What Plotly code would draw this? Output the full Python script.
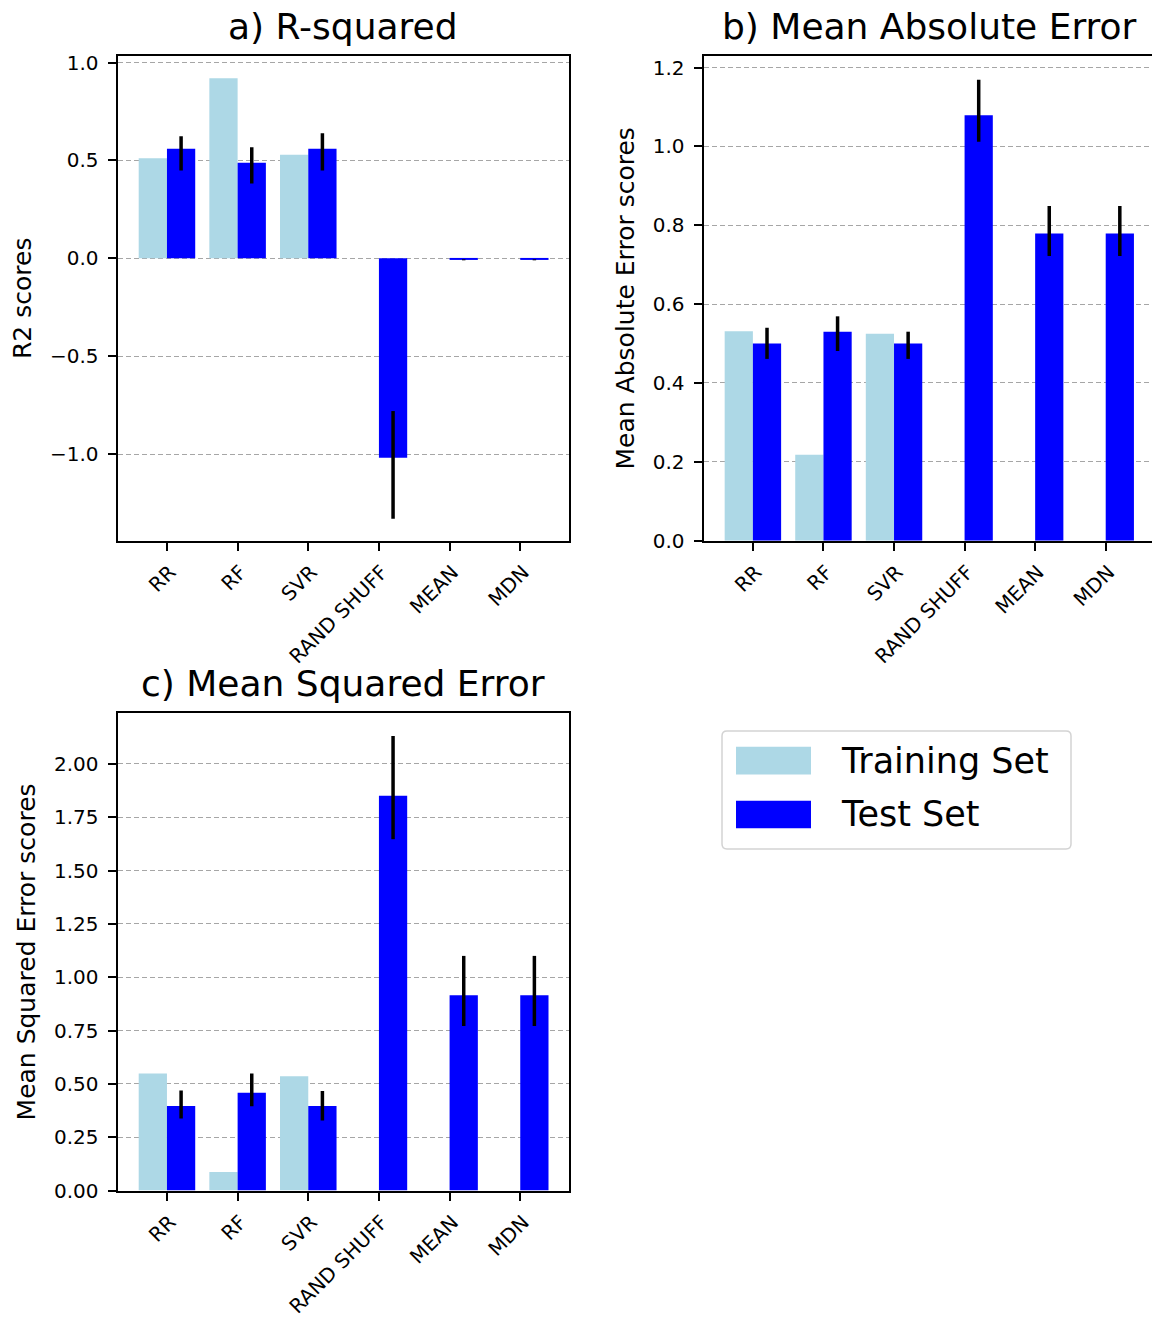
import plotly.graph_objects as go

W, H = 1152, 1325

categories = ["RR", "RF", "SVR", "RAND SHUFF", "MEAN", "MDN"]
series_names = ["Training Set", "Test Set"]

# a) R-squared
r2_train = [0.512, 0.920, 0.529, None, None, None]
r2_test = [0.560, 0.488, 0.560, -1.019, -0.005, -0.005]
r2_err_up = [0.064, 0.080, 0.079, 0.239, 0.0, 0.0]
r2_err_dn = [0.111, 0.106, 0.111, 0.311, 0.005, 0.005]

# b) Mean Absolute Error
mae_train = [0.531, 0.218, 0.525, None, None, None]
mae_test = [0.500, 0.530, 0.500, 1.079, 0.779, 0.779]
mae_err_up = [0.040, 0.039, 0.030, 0.090, 0.070, 0.070]
mae_err_dn = [0.039, 0.049, 0.039, 0.067, 0.057, 0.057]

# c) Mean Squared Error
mse_train = [0.549, 0.087, 0.536, None, None, None]
mse_test = [0.397, 0.458, 0.397, 1.850, 0.916, 0.916]
mse_err_up = [0.072, 0.091, 0.070, 0.280, 0.184, 0.184]
mse_err_dn = [0.059, 0.063, 0.068, 0.203, 0.145, 0.145]

titles = ["a) R-squared", "b) Mean Absolute Error", "c) Mean Squared Error"]
ylabels = ["R2 scores", "Mean Absolute Error scores", "Mean Squared Error scores"]

r2_ticks = [-1.0, -0.5, 0.0, 0.5, 1.0]
r2_ticktext = ["\u22121.0", "\u22120.5", "0.0", "0.5", "1.0"]
mae_ticks = [0.0, 0.2, 0.4, 0.6, 0.8, 1.0, 1.2]
mae_ticktext = ["0.0", "0.2", "0.4", "0.6", "0.8", "1.0", "1.2"]
mse_ticks = [0.0, 0.25, 0.5, 0.75, 1.0, 1.25, 1.5, 1.75, 2.0]
mse_ticktext = ["0.00", "0.25", "0.50", "0.75", "1.00", "1.25", "1.50", "1.75", "2.00"]

TRAIN_COLOR = "#ADD8E6"
TEST_COLOR = "#0000FF"
FONT = "DejaVu Sans"


def px(x):
    return x / W


def py(y):
    return 1 - y / H


# panel boxes in page pixels (left, right, top, bottom)
BOX_A = (117.5, 569, 51.6, 542.6)
BOX_B = (703.5, W, 51.6, 542.6)
BOX_C = (117.5, 569, 717.5, 1201)

panels = [
    dict(train=r2_train, test=r2_test, up=r2_err_up, dn=r2_err_dn, box=BOX_A,
         xr=[-0.70, 5.69], yr=[-1.442, 1.034],
         tv=r2_ticks, tt=r2_ticktext, mirror_y=True, tx=343.2),
    dict(train=mae_train, test=mae_test, up=mae_err_up, dn=mae_err_dn, box=BOX_B,
         xr=[-0.70, 5.656], yr=[0, 1.2295],
         tv=mae_ticks, tt=mae_ticktext, mirror_y=False, tx=929),
    dict(train=mse_train, test=mse_test, up=mse_err_up, dn=mse_err_dn, box=BOX_C,
         xr=[-0.70, 5.69], yr=[0, 2.237],
         tv=mse_ticks, tt=mse_ticktext, mirror_y=True, tx=343.2),
]

fig = go.Figure()
layout = dict(
    width=W, height=H,
    margin=dict(l=0, r=0, t=0, b=0),
    paper_bgcolor="white", plot_bgcolor="white",
    barmode="group", bargap=0.2, bargroupgap=0.0,
    showlegend=False,
    font=dict(family=FONT, color="black"),
)

annotations = []
for i, p in enumerate(panels):
    n = "" if i == 0 else str(i + 1)
    xa, ya = "x" + n, "y" + n
    l, r, t, b = p["box"]
    fig.add_trace(go.Bar(
        x=categories, y=p["train"], name=series_names[0],
        marker=dict(color=TRAIN_COLOR, line=dict(width=0)),
        xaxis=xa, yaxis=ya, offsetgroup="train",
    ))
    fig.add_trace(go.Bar(
        x=categories, y=p["test"], name=series_names[1],
        marker=dict(color=TEST_COLOR, line=dict(width=0)),
        error_y=dict(type="data", symmetric=False, array=p["up"], arrayminus=p["dn"],
                     color="black", thickness=3.5, width=0),
        xaxis=xa, yaxis=ya, offsetgroup="test",
    ))
    layout["xaxis" + n] = dict(
        domain=[px(l), px(r)], anchor=ya, type="category", range=p["xr"],
        showline=True, linecolor="black", linewidth=2, mirror=True,
        ticks="outside", ticklen=8, tickwidth=1.5, tickcolor="black",
        tickangle=-45, tickfont=dict(size=20, family=FONT, color="black"),
        ticklabelshift=3, ticklabelstandoff=2,
        showgrid=False, zeroline=False,
    )
    layout["yaxis" + n] = dict(
        domain=[py(b), py(t)], anchor=xa, range=p["yr"],
        tickvals=p["tv"], ticktext=p["tt"],
        showline=True, linecolor="black", linewidth=2, mirror=p["mirror_y"],
        ticks="outside", ticklen=8, tickwidth=1.5, tickcolor="black",
        tickfont=dict(size=20, family=FONT, color="black"),
        ticklabelstandoff=5,
        showgrid=True, gridcolor="#a6a6a6", gridwidth=1, griddash="5px,3px",
        zeroline=False,
        title=dict(text=ylabels[i], font=dict(size=25, family=FONT, color="black"),
                   standoff=11),
    )
    annotations.append(dict(
        text=titles[i], x=px(p["tx"]), y=py(t), xref="paper", yref="paper",
        xanchor="center", yanchor="bottom", yshift=7, showarrow=False,
        font=dict(size=36, family=FONT, color="black"),
    ))

# Legend (drawn manually to match the large swatches)
shapes = []
lx0, lx1, ly0, ly1 = 722, 1071, 735.4, 855
rx, ry = 5 / W, 5 / H
X0, X1, Y0, Y1 = px(lx0), px(lx1), py(ly1), py(ly0)
path = (f"M {X0 + rx},{Y1} L {X1 - rx},{Y1} Q {X1},{Y1} {X1},{Y1 - ry} "
        f"L {X1},{Y0 + ry} Q {X1},{Y0} {X1 - rx},{Y0} L {X0 + rx},{Y0} "
        f"Q {X0},{Y0} {X0},{Y0 + ry} L {X0},{Y1 - ry} Q {X0},{Y1} {X0 + rx},{Y1} Z")
shapes.append(dict(type="path", path=path, xref="paper", yref="paper",
                   line=dict(color="#d3d3d3", width=1.5), fillcolor="white"))
legend_items = [(series_names[0], TRAIN_COLOR, 751.5, 779.5),
                (series_names[1], TEST_COLOR, 806, 834)]
for name, col, y0, y1 in legend_items:
    shapes.append(dict(type="rect", xref="paper", yref="paper",
                       x0=px(736), x1=px(811), y0=py(y1), y1=py(y0),
                       fillcolor=col, line=dict(width=0)))
    annotations.append(dict(
        text=name, x=px(839), y=py((y0 + y1) / 2), xref="paper", yref="paper",
        xanchor="left", yanchor="middle", showarrow=False,
        font=dict(size=35, family=FONT, color="black"),
    ))

layout["annotations"] = annotations
layout["shapes"] = shapes
fig.update_layout(**layout)
fig.write_html("out.html")
